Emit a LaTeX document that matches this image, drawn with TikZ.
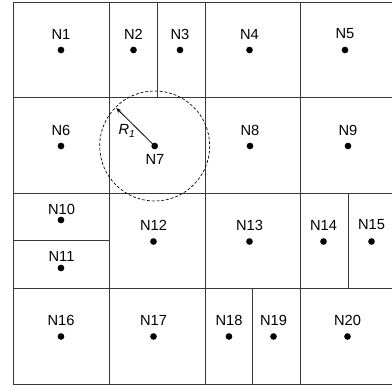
\documentclass[tikz,border=0pt]{standalone}
\usepackage{fontspec}
\setmainfont{Liberation Sans}
\usepackage{xcolor}
\usetikzlibrary{arrows.meta}
\definecolor{gline}{HTML}{3A3A3A}

\begin{document}
\begin{tikzpicture}[x=0.75pt, y=-0.75pt,
  cellline/.style={gline, line width=0.75pt},
  pt/.style={circle, fill=black, inner sep=0pt, minimum size=5pt},
  lbl/.style={font=\fontsize{11}{13}\selectfont, inner sep=0pt}]
\useasboundingbox (0,0) rectangle (392,391);
% grid of cells, right edge runs off the picture
\draw[cellline] (392,3) -- (13,3) -- (13,384) -- (392,384);
\draw[cellline] (13,98) -- (392,98);
\draw[cellline] (13,194) -- (392,194);
\draw[cellline] (13,289) -- (392,289);
\draw[cellline] (109,3) -- (109,384);
\draw[cellline] (205,3) -- (205,384);
\draw[cellline] (300,3) -- (300,384);
% split cells
\draw[cellline] (157,3) -- (157,98);
\draw[cellline] (13,241) -- (109,241);
\draw[cellline] (348,194) -- (348,289);
\draw[cellline] (252,289) -- (252,384);
% row 1
\node[pt] (n1) at (61,50) {};      \node[lbl] (l1) at (61,34) {N1};
\node[pt] (n2) at (133.5,50) {};   \node[lbl] (l2) at (133.5,34) {N2};
\node[pt] (n3) at (180,50) {};     \node[lbl] (l3) at (180,34) {N3};
\node[pt] (n4) at (249.5,50) {};   \node[lbl] (l4) at (249.5,34) {N4};
\node[pt] (n5) at (345,50) {};     \node[lbl] (l5) at (345,34) {N5};
% row 2
\node[pt] (n6) at (61,146) {};     \node[lbl] (l6) at (61,130) {N6};
\node[pt] (n7) at (154.7,146) {};  \node[lbl] (l7) at (155,159.5) {N7};
\node[pt] (n8) at (250,146) {};    \node[lbl] (l8) at (250,130) {N8};
\node[pt] (n9) at (348,146) {};    \node[lbl] (l9) at (348,130) {N9};
% row 3
\node[pt] (n10) at (61,220) {};    \node[lbl] (l10) at (61.5,209) {N10};
\node[pt] (n11) at (61,268) {};    \node[lbl] (l11) at (61.5,256.5) {N11};
\node[pt] (n12) at (153.5,241.5) {}; \node[lbl] (l12) at (153.5,225) {N12};
\node[pt] (n13) at (249.5,241.5) {}; \node[lbl] (l13) at (249.5,225) {N13};
\node[pt] (n14) at (323.5,241.5) {}; \node[lbl] (l14) at (323.5,225) {N14};
\node[pt] (n15) at (371.5,241.5) {}; \node[lbl] (l15) at (371.5,225) {N15};
% row 4
\node[pt] (n16) at (61,336.5) {};    \node[lbl] (l16) at (61,320) {N16};
\node[pt] (n17) at (153.5,336.5) {}; \node[lbl] (l17) at (153.5,320) {N17};
\node[pt] (n18) at (229,336.5) {};   \node[lbl] (l18) at (229,320) {N18};
\node[pt] (n19) at (273.5,336.5) {}; \node[lbl] (l19) at (273.5,320) {N19};
\node[pt] (n20) at (347.5,336.5) {}; \node[lbl] (l20) at (347.5,320) {N20};
% range of N7
\draw[black, line width=0.5pt, dash pattern=on 2.2pt off 1.4pt] (n7.center) circle [radius=55];
\path (n7.center) ++(-38.5,-38) coordinate (rim);
\draw[black, line width=0.6pt, -{Stealth[length=4pt, width=3pt]}] (n7.center) -- (rim);
\node[lbl, font={\fontsize{11}{13}\selectfont\itshape}] (r1) at (127,131) {R\textsubscript{1}};
\end{tikzpicture}
\end{document}
